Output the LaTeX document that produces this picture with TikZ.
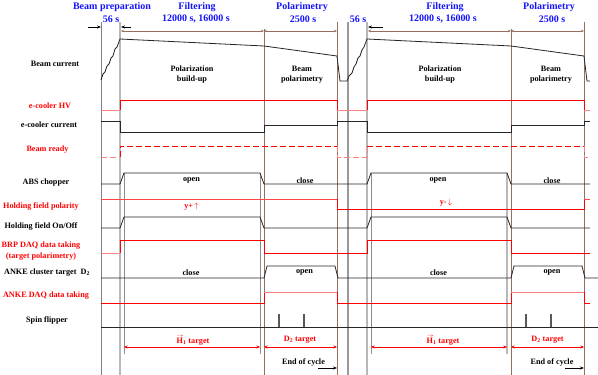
\documentclass[tikz,border=0pt]{standalone}
\usepackage{fontspec}
\setmainfont{Liberation Serif}
\usetikzlibrary{arrows.meta}
\definecolor{hdrblue}{RGB}{20,20,255}
\definecolor{brn}{RGB}{150,110,95}
\definecolor{pinkred}{RGB}{255,130,130}
\definecolor{midred}{RGB}{255,70,70}
\newcommand{\vecH}{\makebox[0pt][l]{\raisebox{6.2pt}{\hspace{0.6pt}\scalebox{0.75}[0.7]{$\rightarrow$}}}H}
\tikzset{
  lbl/.style={font=\fontsize{8.2}{10.5}\selectfont\bfseries, align=center, inner sep=0pt},
  rlbl/.style={lbl, text=red},
  hdr/.style={font=\fontsize{10}{12}\selectfont\bfseries, text=hdrblue, align=center, inner sep=0pt},
  sig/.style={line width=0.8pt, black!85},
  rsig/.style={line width=0.8pt, red},
  psig/.style={line width=0.8pt, pinkred},
  msig/.style={line width=0.8pt, midred},
  vgray/.style={line width=0.8pt, black!50},
  vlight/.style={line width=1.8pt, black!28},
  vmid/.style={line width=1.2pt, black!40},
  vthin/.style={line width=0.6pt, black!45},
  vbrown/.style={line width=0.7pt, brn},
  dimarr/.style={line width=0.5pt, brn, {Stealth[length=3pt,width=2.5pt]}-{Stealth[length=3pt,width=2.5pt]}},
  blkarr/.style={line width=0.6pt, black, -{Stealth[length=4pt,width=3pt]}},
  redarr/.style={line width=0.8pt, red, {Stealth[length=3.5pt,width=3pt]}-{Stealth[length=3.5pt,width=3pt]}},
  pulse/.style={line width=1.2pt, black!65}
}
\begin{document}
\begin{tikzpicture}[x=1pt,y=-1pt]
\useasboundingbox (0,0) rectangle (598,375);
\fill[white] (0,0) rectangle (598,375);

% vertical time markers
\draw[vgray] (101,22) -- (101,375);
\draw[vlight] (120,22) -- (120,375);
\draw[vthin] (124,173) -- (124,354);
\draw[vthin] (260,173) -- (260,354);
\draw[vbrown] (264,29) -- (264,375);
\draw[vbrown] (337,22) -- (337,375);
\draw[vmid] (348,22) -- (348,375);
\draw[vlight] (367,22) -- (367,375);
\draw[vthin] (371,173) -- (371,354);
\draw[vlight] (507,173) -- (507,354);
\draw[vbrown] (511,29) -- (511,375);
\draw[vbrown] (584,22) -- (584,375);

% headers
\node[hdr] (hbp) at (112,7) {Beam preparation};
\node[hdr] (hbps) at (111,19) {56 s};
\node[hdr] (hf1) at (197,7) {Filtering};
\node[hdr] (hf1s) at (196,19) {12000 s, 16000 s};
\node[hdr] (hp1) at (302,7) {Polarimetry};
\node[hdr] (hp1s) at (303,19) {2500 s};
\node[hdr] (h56) at (358,19) {56 s};
\node[hdr] (hf2) at (445,7) {Filtering};
\node[hdr] (hf2s) at (443,19) {12000 s, 16000 s};
\node[hdr] (hp2) at (549,7) {Polarimetry};
\node[hdr] (hp2s) at (552,19) {2500 s};

% header arrows
\draw[blkarr] (88,27) -- (101,27);
\draw[blkarr] (131,27) -- (121,27);
\draw[blkarr] (383,27) -- (368,27);
\draw[dimarr] (121,31) -- (264,31);
\draw[dimarr] (264,31) -- (337,31);
\draw[dimarr] (368,31) -- (511,31);
\draw[dimarr] (511,31) -- (584,31);

% row labels
\node[lbl] (lbc) at (55,64) {Beam current};
\node[rlbl] (lhv) at (50,106) {e-cooler HV};
\node[lbl] (lcur) at (49,125) {e-cooler current};
\node[rlbl] (lrdy) at (47.5,150) {Beam ready};
\node[lbl] (labs) at (46,183) {ABS chopper};
\node[rlbl] (lpol) at (41,207) {Holding field polarity};
\node[lbl] (lonoff) at (41,227) {Holding field On/Off};
\node[rlbl] (lbrp) at (41,251) {BRP DAQ data taking\\(target polarimetry)};
\node[lbl] (lanke) at (47,273) {ANKE cluster target~~D\textsubscript{2}};
\node[rlbl] (ladaq) at (46,296) {ANKE DAQ data taking};
\node[lbl] (lspin) at (47,320) {Spin flipper};

% beam current
\draw[sig] (101,80) -- (103,74) -- (105,72) -- (107,66) -- (109,64) -- (111,58) -- (113,56) -- (115,49) -- (117,47) -- (120,39)
  -- (264,46) -- (337,56) -- (340,81) -- (347,81)
  -- (349,76) -- (352,73) -- (354,67) -- (356,64) -- (358,58) -- (360,56) -- (362,50) -- (364,47) -- (367,39)
  -- (511,46) -- (584,56) -- (587,81) -- (590,81);
\node[lbl] (tpb1) at (192,74.5) {Polarization\\build-up};
\node[lbl] (tbp1) at (302,74.5) {Beam\\polarimetry};
\node[lbl] (tpb2) at (440,74.5) {Polarization\\build-up};
\node[lbl] (tbp2) at (551,74.5) {Beam\\polarimetry};

% e-cooler HV
\draw[psig] (101,110) -- (120,110);
\draw[rsig] (120,110) -- (120,100) -- (337,100) -- (337,110);
\draw[psig] (337,110) -- (367,110);
\draw[rsig] (367,110) -- (367,100) -- (584,100) -- (584,110);
\draw[psig] (584,110) -- (590,110);

% e-cooler current
\draw[sig] (101,121) -- (120,121) -- (120,132) -- (264,132) -- (264,125) -- (337,125) -- (337,121) -- (367,121) -- (367,132) -- (511,132) -- (511,125) -- (584,125) -- (584,121) -- (590,121);

% beam ready
\draw[psig, dash pattern=on 6pt off 3pt] (101,157) -- (120,157);
\draw[rsig, dash pattern=on 6pt off 3pt] (120,157) -- (120,146) -- (337,146);
\draw[psig, dash pattern=on 6pt off 3pt] (337,146) -- (337,157) -- (367,157) -- (367,146);
\draw[rsig, dash pattern=on 6pt off 3pt] (367,146) -- (584,146);
\draw[psig, dash pattern=on 6pt off 3pt] (584,146) -- (584,157) -- (590,157);

% ABS chopper
\draw[sig] (101,184) -- (120,184) -- (124,173) -- (260,173) -- (264,184) -- (367,184) -- (371,173) -- (507,173) -- (511,184) -- (590,184);
\node[lbl] (o1) at (191.5,180.5) {open};
\node[lbl] (c1) at (305,180.5) {close};
\node[lbl] (o2) at (438,180.5) {open};
\node[lbl] (c2) at (552,180.5) {close};

% holding field polarity
\draw[msig] (101,199) -- (337,199);
\draw[rsig] (337,199) -- (337,209) -- (584,209) -- (584,199);
\draw[msig] (584,199) -- (590,199);
\node[rlbl] (yp) at (191.5,206.5) {y+\,$\uparrow$};
\node[rlbl] (ym) at (446,203) {y-\,$\downarrow$};

% holding field on/off
\draw[sig] (101,228) -- (120,228) -- (124,217) -- (260,217) -- (264,228) -- (367,228) -- (371,217) -- (507,217) -- (511,228) -- (590,228);

% BRP DAQ
\draw[psig] (101,253) -- (120,253);
\draw[rsig] (120,253) -- (120,240) -- (264,240) -- (264,253) -- (367,253) -- (367,240) -- (511,240) -- (511,253) -- (590,253);

% ANKE cluster target
\draw[sig] (101,278) -- (264,278) -- (267,266) -- (335,266) -- (338,278) -- (511,278) -- (514,266) -- (582,266) -- (585,278) -- (598,278);
\node[lbl] (ac1) at (191,272.5) {close};
\node[lbl] (ao1) at (304.5,272.5) {open};
\node[lbl] (ac2) at (438.5,272.5) {close};
\node[lbl] (ao2) at (552,272.5) {open};

% ANKE DAQ
\draw[rsig] (101,303) -- (264,303) -- (264,292);
\draw[psig] (264,292) -- (337,292);
\draw[rsig] (337,292) -- (337,303) -- (511,303) -- (511,292);
\draw[psig] (511,292) -- (584,292);
\draw[rsig] (584,292) -- (584,303) -- (590,303);

% spin flipper
\draw[sig] (101,327) -- (598,327);
\draw[pulse] (279,314) -- (279,327);
\draw[pulse] (304,314) -- (304,327);
\draw[pulse] (526,314) -- (526,327);
\draw[pulse] (551,314) -- (551,327);

% target arrows
\draw[redarr] (124,347) -- (260,347);
\draw[redarr] (264,347) -- (337,347);
\draw[redarr] (371,347) -- (507,347);
\draw[redarr] (511,347) -- (584,347);
\node[rlbl] (th1) at (193,340) {\vecH\textsubscript{1} target};
\node[rlbl] (td1) at (300,340) {D\textsubscript{2} target};
\node[rlbl] (th2) at (443,340) {\vecH\textsubscript{1} target};
\node[rlbl] (td2) at (547.5,340) {D\textsubscript{2} target};

% end of cycle
\node[lbl] (e1) at (303.5,362) {End of cycle};
\node[lbl] (e2) at (552,362) {End of cycle};
\draw[blkarr] (318,368) -- (337,368);
\draw[blkarr] (565,368) -- (584,368);
\end{tikzpicture}
\end{document}
